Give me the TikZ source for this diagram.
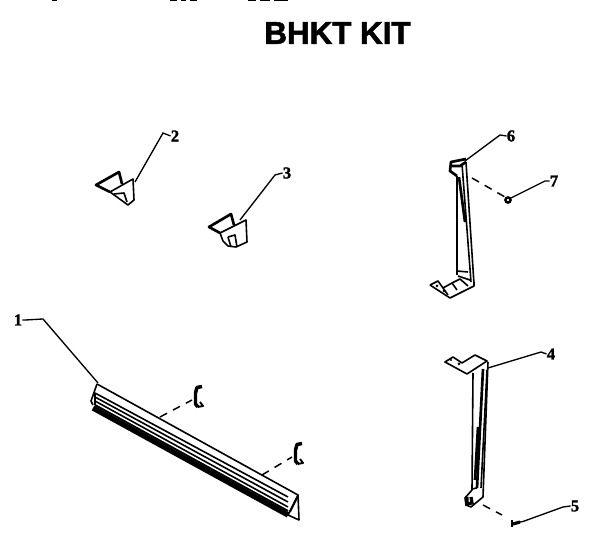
\documentclass[tikz,border=0pt]{standalone}
\usepackage{fontspec}
\setmainfont[BoldFeatures={FakeBold=1.6}]{Liberation Serif}
\newfontfamily\titlefont[BoldFeatures={FakeBold=1.8}]{Liberation Sans}
\usetikzlibrary{positioning}
\tikzset{
  Teil/.style={draw,line width=1.2pt,line join=round}, % part outlines
  Dick/.style={draw,line width=2pt,line join=round}, % heavy outlines
  Leiter/.style={draw,line width=1pt}, % leader lines
  Strich/.style={draw,line width=1.1pt,dash pattern=on 6pt off 5pt}, % dashed
  Nummer/.style={font=\bfseries\fontsize{12.5}{13}\selectfont,inner sep=0pt}
}

\begin{document}
\begin{tikzpicture}[x=.75pt,y=-.75pt]
\useasboundingbox (0,0) rectangle (608,548);

%Title
\node[font=\titlefont\bfseries\fontsize{23.5}{24}\selectfont,inner sep=0pt] (Titel) at (337.5,33) {BHKT KIT};

%cut-off text at top edge
\foreach \a/\b in {52/57,170/177,181/186,190/197,248/256,260/270,274/288}
  \draw[line width=.8pt] (\a,.3) -- (\b,.3);

%Numbers
\node[Nummer] (N1) at (18,320) {1};
\node[Nummer] (N2) at (175,136) {2};
\node[Nummer] (N3) at (287,173) {3};
\node[Nummer] (N4) at (551,354) {4};
\node[Nummer] (N5) at (575,506) {5};
\node[Nummer] (N6) at (511,136) {6};
\node[Nummer] (N7) at (554,181) {7};

%Anchor points on the parts
\coordinate (Rail) at (98,383);
\coordinate (Wedge2) at (135,182);
\coordinate (Wedge3) at (240,220);
\coordinate (Brkt6) at (465,161);
\coordinate (Brkt4) at (488,368);
\coordinate (Nut7) at (511,198);
\coordinate (Screw5) at (523,521.5);
\coordinate (NutHole) at (505,197);
\coordinate (BrktHole6) at (472,178);
\coordinate (BrktHole4) at (483,505);
\coordinate (ScrewEnd) at (502,515);
\coordinate (RailA) at (160,417);
\coordinate (ClipA) at (192,400);
\coordinate (RailB) at (262,475);
\coordinate (ClipB) at (292,457);

%Wedge 2
\draw[Dick] (122,184) -- (119,172) -- (96,185) -- (110,192);
\draw[Teil] (110,192) -- (128,205) -- (134,200) -- (133,179) -- cycle;
\draw[Teil] (114,194) -- (124,193) -- (127,202);

%Wedge 3
\draw[Dick] (234,225) -- (231,214) -- (209,227) -- (220,233);
\draw[Teil] (220,233) -- (246,220) -- (247,242) -- (236,247)
  -- (228,246) -- (223,241) -- cycle;
\draw[Teil] (228,237) -- (235,235) -- (237,247);
\draw[Teil] (228,237) -- (231,247);

%Bracket 6
\draw[Dick] (466,159) -- (451,162) -- (450,171) -- (457,176);
\draw[Dick] (452,166) -- (460,166) -- (466,162);
\draw[Teil] (457,176) -- (457,275);
\draw[Teil] (466,162) -- (474,284);
\draw[Teil] (462,164) -- (471,282);
\draw[Dick] (459,177) -- (465,222);
\draw[Teil] (457,271) -- (468,272);
\draw[Teil] (458,276) -- (470,280);
\draw[Teil] (430,285) -- (438,281) -- (443,288) -- (452,283) -- (460,279) -- (468,286);
\draw[Teil] (430,285) -- (450,298) -- (474,286) -- (474,282);
\draw[Teil] (448,295) -- (443,288);
\draw[Teil] (452,283) -- (457,290);
\fill (437,286) circle (1.5);
\fill (444,291) circle (1.5);

%Nut 7
\draw[line width=1.8pt] (508,200) circle (2.6);

%Bracket 4
\draw[Teil] (445,362) -- (453,357) -- (462,363) -- (475,355) -- (487,361)
  -- (467,374) -- cycle;
\fill (459,364) circle (1.5);
\fill (451,360) circle (1.2);
\draw[Teil] (473,373) -- (472,490) -- (465,498) -- (466,505) -- (471,507)
  -- (483,497) -- (488,362);
\draw[Dick] (483,369) -- (477,488);
\draw[Teil] (487,370) -- (481,488);
\draw[Dick] (478,427) -- (475,480);
\draw[Teil] (472,489) -- (477,488);
\draw[line width=2.4pt] (467,497) -- (467,504) -- (472,503) -- (471,497);

%Screw 5
\draw[Dick] (512,520) -- (512,527);
\draw[line width=2.4pt] (513,524) -- (520,522);
\draw[Leiter] (520,522) -- (Screw5);

%Rail 1
\draw[Teil] (97,384) -- (91,401) -- (93,405);
\draw[Teil] (97,384) -- (298,495);
\foreach \y/\yy in {393/497,397/502,401/507}
  \draw[Teil] (95,\y) -- (288,\yy);
\draw[Teil] (95,393) -- (95,405);
\draw[line width=1.5pt] (95,405) -- (288,511);
\draw[line width=4pt] (93,408) -- (288,515);
\draw[Teil] (298,495) -- (299,520) -- (288,515) -- cycle;
\draw[Teil] (297,498) -- (290,512);

%Clips
\foreach \n/\dx/\dy in {A/0/0,B/100/57}{
  \draw[line width=2.6pt,line join=round,shift={(\dx,\dy)}]
    (202,386.5) -- (197,387.5) -- (195.5,393) -- (195.5,404) -- (198,407);
  \draw[line width=1.4pt,line join=round,shift={(\dx,\dy)}]
    (198,407) -- (203,406) -- (200,402);
}

%Leader lines
\draw[Leiter] (N1.east) -- ++(3,0) -- (43,319) -- (Rail);
\draw[Leiter] (N2.west) -- (163,133) -- (Wedge2);
\draw[Leiter] (N3.west) -- (275,175) -- (Wedge3);
\draw[Leiter] (N4.west) -- (541,352) -- (Brkt4);
\draw[Leiter] (N5.west) -- (563,507) -- (Screw5);
\draw[Leiter] (N6.west) -- (500,135) -- (Brkt6);
\draw[Leiter] (N7.west) -- (545,181) -- (Nut7);

%Dashed lines
\draw[Strich] (BrktHole6) -- (NutHole);
\draw[Strich] (BrktHole4) -- (ScrewEnd);
\draw[Strich] (RailA) -- (ClipA);
\draw[Strich] (RailB) -- (ClipB);
\end{tikzpicture}
\end{document}
